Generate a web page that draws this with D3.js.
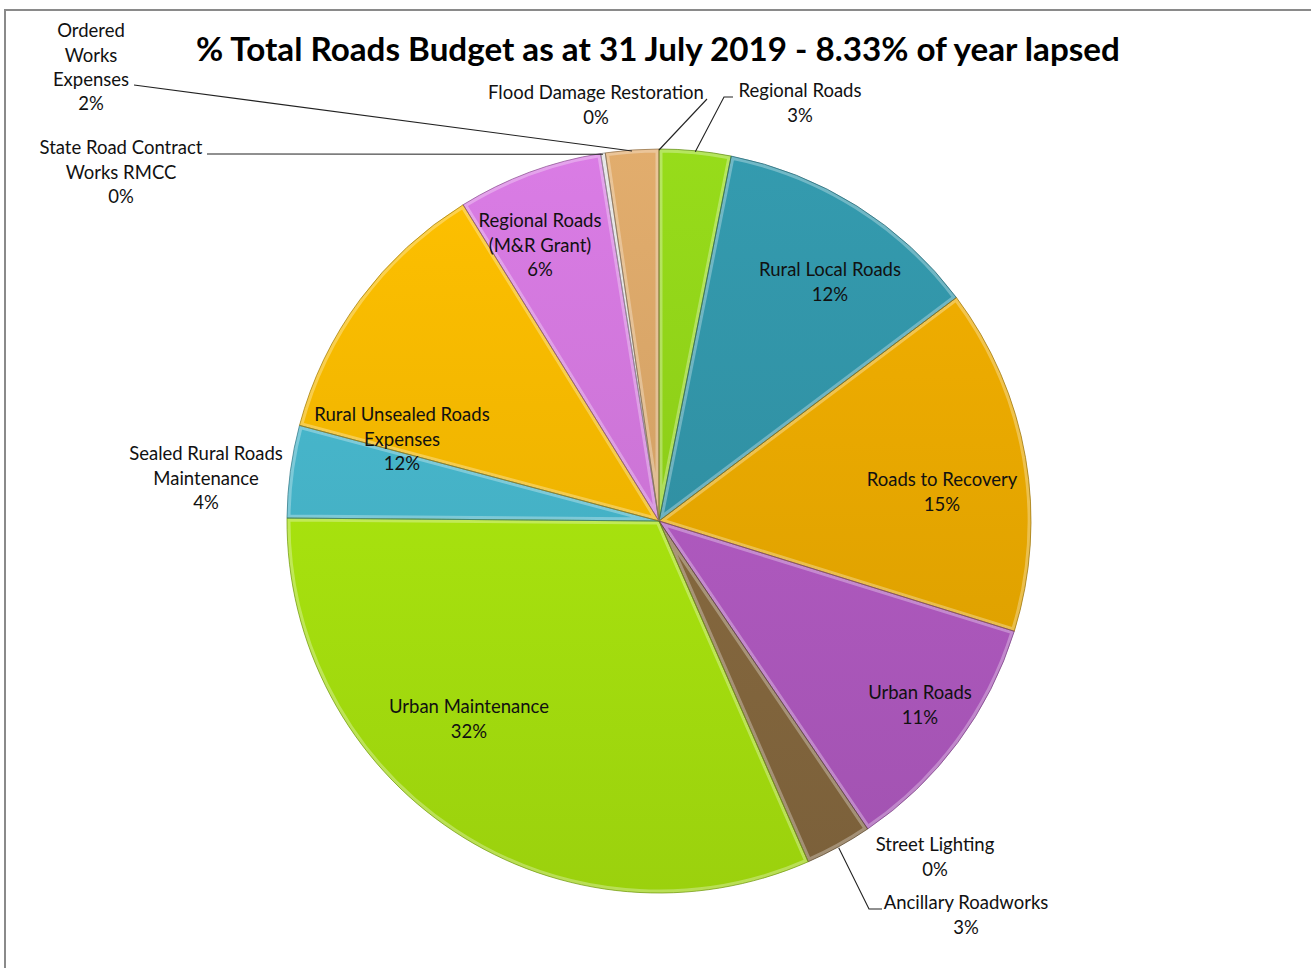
<!DOCTYPE html>
<html>
<head>
<meta charset="utf-8">
<script src="https://cdn.jsdelivr.net/npm/d3@7"></script>
<style>
  html, body { margin: 0; padding: 0; background: #fff; }
  svg { display: block; }
  text { font-family: Lato, "Open Sans", sans-serif; }
</style>
</head>
<body>
<svg id="chart" width="1311" height="968"></svg>
<script>
// Road budget shares, clockwise from 12 o'clock
const categories = [
  "Flood Damage Restoration",
  "Regional Roads",
  "Rural Local Roads",
  "Roads to Recovery",
  "Urban Roads",
  "Street Lighting",
  "Ancillary Roadworks",
  "Urban Maintenance",
  "Sealed Rural Roads Maintenance",
  "Rural Unsealed Roads Expenses",
  "Regional Roads (M&R Grant)",
  "State Road Contract Works RMCC",
  "Ordered Works Expenses"
];
const values = [0, 3.1, 11.6, 15.0, 10.7, 0, 2.9, 31.6, 4.0, 12.0, 6.3, 0.2, 2.3];
const sliceColors = [
  "#8fd119", "#8fd119", "#3193a6", "#e8a800", "#b05ac0", "#9a7a50",
  "#87693f", "#a9e40e", "#46b4c9", "#f4b700", "#cf76d9", "#d2d2d2", "#d6a467"
];
const titleText = "% Total Roads Budget as at 31 July 2019 - 8.33% of year lapsed";

// label placement: name lines, centre x, first line y, optional leader start
const labelLayout = [
  { lines: ["Flood Damage Restoration"], x: 596, y: 93, leader: [[707, 99]] },
  { lines: ["Regional Roads"], x: 800, y: 91, leader: [[733, 97], [724, 97]] },
  { lines: ["Rural Local Roads"], x: 830, y: 270 },
  { lines: ["Roads to Recovery"], x: 942, y: 480 },
  { lines: ["Urban Roads"], x: 920, y: 693 },
  { lines: ["Street Lighting"], x: 935, y: 845 },
  { lines: ["Ancillary Roadworks"], x: 966, y: 903, leader: [[882, 909], [869, 909]] },
  { lines: ["Urban Maintenance"], x: 469, y: 707 },
  { lines: ["Sealed Rural Roads", "Maintenance"], x: 206, y: 454 },
  { lines: ["Rural Unsealed Roads", "Expenses"], x: 402, y: 415 },
  { lines: ["Regional Roads", "(M&R Grant)"], x: 540, y: 221 },
  { lines: ["State Road Contract", "Works RMCC"], x: 121, y: 148, leader: [[207, 154]] },
  { lines: ["Ordered", "Works", "Expenses"], x: 91, y: 31, leader: [[134, 85]] }
];

const W = 1311, H = 968;
const cx = 659, cy = 521, R = 372;
const lineH = 24.3;

const svg = d3.select("#chart");
const defs = svg.append("defs");

// chart area frame
svg.append("rect")
  .attr("x", 5).attr("y", 10)
  .attr("width", W + 20).attr("height", H + 20)
  .attr("fill", "#fff")
  .attr("stroke", "#8a8a8a").attr("stroke-width", 2);

svg.append("text")
  .attr("x", 658).attr("y", 61)
  .attr("text-anchor", "middle")
  .attr("font-weight", 700)
  .attr("font-size", 33.2)
  .attr("fill", "#000")
  .text(titleText);

const data = categories.map((c, i) => ({ name: c, value: values[i], color: sliceColors[i], i }));
const total = d3.sum(values);
const pct = v => Math.round(v / total * 100) + "%";

const pie = d3.pie().sort(null).value(d => d.value).startAngle(0).endAngle(2 * Math.PI);
const arcs = pie(data);
const arc = d3.arc().innerRadius(0).outerRadius(R);

const g = svg.append("g").attr("transform", `translate(${cx},${cy})`);

// vertical shading for each slice colour
arcs.forEach(a => {
  const base = d3.color(a.data.color);
  const grad = defs.append("linearGradient")
    .attr("id", "grad" + a.index)
    .attr("gradientUnits", "userSpaceOnUse")
    .attr("x1", 0).attr("y1", -R).attr("x2", 0).attr("y2", R);
  grad.append("stop").attr("offset", 0).attr("stop-color", base.brighter(0.15));
  grad.append("stop").attr("offset", 1).attr("stop-color", base.darker(0.25));
  defs.append("clipPath").attr("id", "clip" + a.index)
    .append("path").attr("d", arc(a));
});

const drawn = arcs.filter(a => a.endAngle - a.startAngle > 0);

g.selectAll("path.slice")
  .data(drawn)
  .join("path")
  .attr("class", "slice")
  .attr("d", arc)
  .attr("fill", a => `url(#grad${a.index})`);

// soft raised edges
g.selectAll("path.hi")
  .data(drawn)
  .join("path")
  .attr("class", "hi")
  .attr("d", arc)
  .attr("fill", "none")
  .attr("stroke", "#fff")
  .attr("stroke-opacity", 0.3)
  .attr("stroke-width", 7)
  .attr("clip-path", a => `url(#clip${a.index})`);

g.selectAll("path.edge")
  .data(drawn)
  .join("path")
  .attr("class", "edge")
  .attr("d", arc)
  .attr("fill", "none")
  .attr("stroke", a => d3.color(a.data.color).darker(1.2))
  .attr("stroke-opacity", 0.7)
  .attr("stroke-width", 1);

// leader lines from label to slice rim
arcs.forEach(a => {
  const lay = labelLayout[a.index];
  if (!lay.leader) return;
  const mid = (a.startAngle + a.endAngle) / 2;
  const end = [cx + R * Math.sin(mid), cy - R * Math.cos(mid) + 1];
  const pts = lay.leader.concat([end]);
  svg.append("path")
    .attr("d", d3.line()(pts))
    .attr("fill", "none")
    .attr("stroke", "#222")
    .attr("stroke-width", 1.1);
});

// data labels
arcs.forEach(a => {
  const lay = labelLayout[a.index];
  const lines = lay.lines.concat([pct(a.data.value)]);
  const t = svg.append("text")
    .attr("text-anchor", "middle")
    .attr("font-size", 18.5)
    .attr("fill", "#111");
  lines.forEach((ln, k) => {
    t.append("tspan")
      .attr("x", lay.x)
      .attr("y", lay.y + k * lineH)
      .attr("dy", "0.35em")
      .text(ln);
  });
});
</script>
</body>
</html>
